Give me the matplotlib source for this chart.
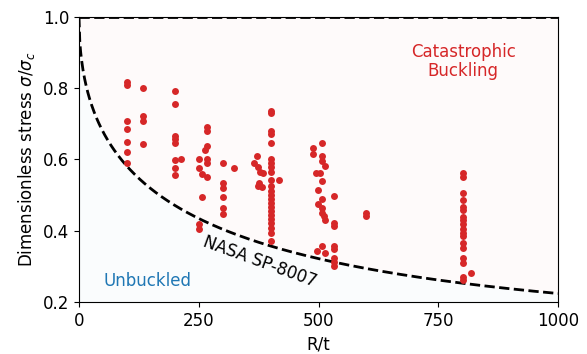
import numpy as np
import matplotlib
matplotlib.use("Agg")
import matplotlib.pyplot as plt

# ---- data ----
rt_a = [101]*7 + [133]*4 + [200]*8 + [212]
st_a = [0.818, 0.810, 0.709, 0.686, 0.650, 0.622, 0.590,
        0.800, 0.722, 0.709, 0.644,
        0.793, 0.755, 0.667, 0.657, 0.647, 0.599, 0.576, 0.557,
        0.602]

rt_b = [250, 250, 256, 256, 250, 250] + [268]*6 + [264] + [300]*6 + [324]
st_b = [0.600, 0.577, 0.558, 0.494, 0.419, 0.406,
        0.690, 0.681, 0.638, 0.600, 0.589, 0.552,
        0.626,
        0.591, 0.534, 0.521, 0.496, 0.463, 0.446,
        0.575]

rt_c = [371, 366, 373, 378, 385, 376, 374, 381, 418]
st_c = [0.611, 0.589, 0.580, 0.566, 0.561, 0.535, 0.526, 0.524, 0.542]

rt_d = [401]*23
st_d = [0.737, 0.731, 0.679, 0.671, 0.647, 0.602, 0.590, 0.578, 0.564,
        0.542, 0.525, 0.512, 0.500, 0.488, 0.477, 0.466, 0.455, 0.444,
        0.433, 0.421, 0.408, 0.395, 0.372]

rt_e = [489, 489, 507, 507, 507, 514, 495, 503, 507, 499, 507, 499, 507,
        507, 511, 514, 507, 496, 514]
st_e = [0.631, 0.615, 0.646, 0.611, 0.597, 0.583, 0.563, 0.563, 0.541,
        0.514, 0.490, 0.474, 0.465, 0.451, 0.440, 0.431, 0.358, 0.343, 0.337]

rt_f = [533]*8 + [600]*2
st_f = [0.498, 0.423, 0.412, 0.357, 0.348, 0.323, 0.311, 0.300,
        0.451, 0.440]

rt_g = [801]*18 + [818]
st_g = [0.561, 0.551, 0.507, 0.486, 0.467, 0.459, 0.438, 0.429, 0.418,
        0.406, 0.395, 0.385, 0.366, 0.351, 0.323, 0.310, 0.271, 0.262,
        0.281]

xticks = [0, 250, 500, 750, 1000]
yticks = [0.2, 0.4, 0.6, 0.8, 1.0]

rt = np.array(rt_a + rt_b + rt_c + rt_d + rt_e + rt_f + rt_g, dtype=float)
st = np.array(st_a + st_b + st_c + st_d + st_e + st_f + st_g, dtype=float)

# NASA SP-8007 knockdown curve
xc = np.linspace(0, 1000, 600)
gamma = 1 - 0.901 * (1 - np.exp(-np.sqrt(xc) / 16))

fig = plt.figure(figsize=(5.87, 3.54), dpi=100)
ax = fig.add_axes([0.1346, 0.1469, 0.8160, 0.8051])

ax.fill_between(xc, gamma, 1.0, color="tab:red", alpha=0.02, lw=0)
ax.fill_between(xc, 0.2, gamma, color="tab:blue", alpha=0.02, lw=0)
ax.plot(xc, gamma, color="black", ls="--", lw=2)
ax.axhline(1.0, color="black", ls="--", lw=2)

ax.scatter(rt, st, s=25, color="#d62728", zorder=3, linewidths=0)

ax.text(378, 0.313, "NASA SP-8007", rotation=-20, ha="center", va="center",
        rotation_mode="anchor", fontsize=12, color="black")
ax.text(142, 0.259, "Unbuckled", ha="center", va="center",
        fontsize=12, color="tab:blue")
ax.text(802, 0.875, "Catastrophic\nBuckling", ha="center", va="center",
        fontsize=12, color="tab:red", linespacing=1.1)

ax.set_xlim(0, 1000)
ax.set_ylim(0.2, 1.0)
ax.set_xticks(xticks)
ax.set_yticks(yticks)
ax.tick_params(labelsize=12)
ax.set_xlabel("R/t", fontsize=12)
ax.set_ylabel(r"Dimensionless stress $\sigma/\sigma_c$", fontsize=12)

fig.savefig("out.png", dpi=100)
